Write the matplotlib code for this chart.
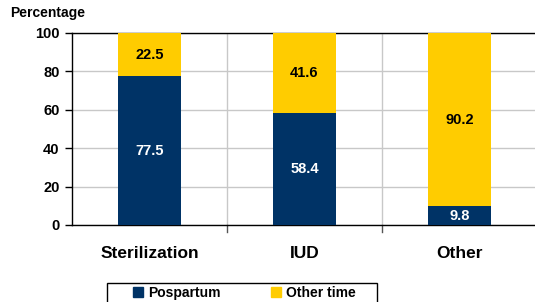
import numpy as np
import matplotlib
matplotlib.use("Agg")
import matplotlib.pyplot as plt
from matplotlib.patches import Patch, Rectangle

plt.rcParams['font.family'] = ['Liberation Sans', 'DejaVu Sans']
plt.rcParams['font.weight'] = 'bold'

categories = ["Sterilization", "IUD", "Other"]
pospartum = [77.5, 58.4, 9.8]
other_time = [22.5, 41.6, 90.2]
yticks = [0, 20, 40, 60, 80, 100]

navy = "#003366"
yellow = "#FFCC00"

fig = plt.figure(figsize=(5.35, 3.02), dpi=100)
ax = fig.add_axes([72 / 535, 1 - 225 / 302, 465 / 535, 192 / 302])

x = np.arange(len(categories))
width = 0.41
ax.bar(x, pospartum, width, color=navy, zorder=3)
ax.bar(x, other_time, width, bottom=pospartum, color=yellow, zorder=3)

for i in range(len(categories)):
    ax.text(x[i], pospartum[i] / 2, f"{pospartum[i]:.1f}", ha='center', va='center',
            color='white', fontsize=10.5, fontweight='bold', zorder=4)
    ax.text(x[i], pospartum[i] + other_time[i] / 2, f"{other_time[i]:.1f}", ha='center',
            va='center', color='black', fontsize=10.5, fontweight='bold', zorder=4)

ax.set_xlim(-0.5, len(categories) - 0.5)
ax.set_ylim(0, 100)
ax.set_yticks(yticks)
ax.set_yticklabels([str(v) for v in yticks], fontsize=10.5, fontweight='bold')
ax.set_xticks(x)
ax.set_xticklabels(categories, fontsize=12.5, fontweight='bold')
ax.tick_params(axis='x', length=0, pad=15)
ax.tick_params(axis='y', length=5, width=1, direction='out', pad=4)

ax.grid(axis='y', color='#C8C8C8', linewidth=1, zorder=0)
for b in [0.5, 1.5]:
    ax.axvline(b, color='#C8C8C8', linewidth=1, zorder=0)
    ax.plot([b, b], [0, -3.5], color='#555555', linewidth=1, clip_on=False)

for s in ['left', 'bottom', 'top']:
    ax.spines[s].set_color('black')
    ax.spines[s].set_linewidth(1)
ax.spines['right'].set_visible(False)

fig.text(10 / 535, 1 - 13 / 302, "Percentage", fontsize=10, fontweight='bold',
         ha='left', va='center')

# legend box runs off the bottom of the image, like the original
fig.patches.append(Rectangle((107 / 535, -0.05), 270 / 535, 0.05 + 19 / 302,
                             transform=fig.transFigure, facecolor='white',
                             edgecolor='black', linewidth=1, figure=fig))
handles = [Patch(color=navy, label="Pospartum"), Patch(color=yellow, label="Other time")]
leg = fig.legend(handles=handles, loc='upper left', bbox_to_anchor=(131 / 535, 1 - 284 / 302),
                 ncol=2, frameon=False, fontsize=10,
                 handlelength=0.7, handleheight=0.7, columnspacing=3.6, borderpad=0.15,
                 handletextpad=0.4, borderaxespad=0)

fig.savefig("out.png", dpi=100)
